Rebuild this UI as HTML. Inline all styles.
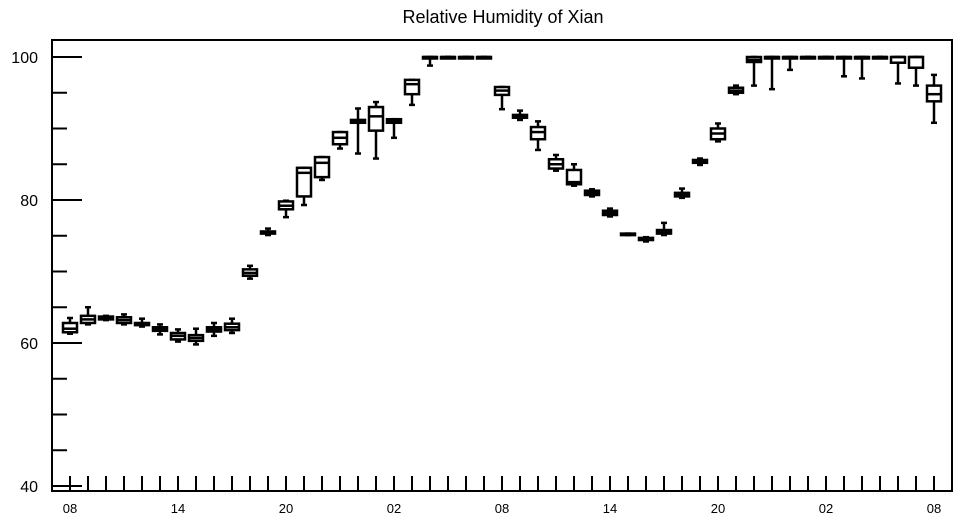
<!DOCTYPE html>
<html><head><meta charset="utf-8"><style>
body{margin:0;background:#fff}
svg{display:block;font-family:"Liberation Sans",Arial,sans-serif}
</style></head><body>
<svg id="chart" width="957" height="520">
<text x="503" y="23" text-anchor="middle" font-size="18">Relative Humidity of Xian</text>
<rect x="52" y="40" width="900" height="451" fill="none" stroke="#000" stroke-width="2"/>
<g id="marks"></g>
</svg>
<script>
const hours = [0,1,2,3,4,5,6,7,8,9,10,11,12,13,14,15,16,17,18,19,20,21,22,23,24,25,26,27,28,29,30,31,32,33,34,35,36,37,38,39,40,41,42,43,44,45,46,47,48];
const q1s  = [61.5,62.8,63.3,62.8,62.5,61.7,60.5,60.3,61.6,61.8,69.4,75.3,78.7,80.5,83.2,87.8,90.8,89.7,90.8,94.8,99.8,100,100,100,94.7,91.5,88.5,84.4,82.2,80.7,77.9,75.1,74.4,75.3,80.5,85.2,88.5,95.0,99.3,99.8,100,100,100,100,100,100,99.2,98.5,93.8];
const meds = [62.0,63.3,63.5,63.2,62.6,62.0,61.0,60.7,61.9,62.2,69.8,75.4,79.2,83.8,85.2,88.7,91.0,91.7,91.0,96.2,100,100,100,100,95.3,91.7,89.5,85.0,82.5,81.0,78.2,75.2,74.5,75.6,80.7,85.4,89.3,95.3,99.6,100,100,100,100,100,100,100,100,100,94.8];
const q3s  = [62.8,63.8,63.7,63.6,62.8,62.2,61.4,61.1,62.2,62.7,70.3,75.6,79.8,84.5,86.0,89.5,91.2,93.0,91.3,96.8,100,100,100,100,95.8,91.9,90.2,85.7,84.2,81.3,78.5,75.3,74.7,75.8,81.0,85.6,90.0,95.7,100,100,100,100,100,100,100,100,100,100,96.0];
const mins = [61.3,62.6,63.2,62.6,62.3,61.2,60.2,59.8,61.0,61.4,69.0,75.1,77.6,79.3,82.8,87.2,86.5,85.8,88.7,93.3,98.8,100,100,100,92.7,91.2,87.0,84.1,82.0,80.5,77.7,75.1,74.2,75.1,80.3,84.9,88.2,94.8,96.0,95.5,98.2,100,100,97.3,97.0,100,96.3,96.0,90.8];
const maxs = [63.5,65.0,63.8,64.0,63.4,62.6,61.9,62.0,62.8,63.4,70.8,76.0,79.9,84.5,86.0,89.5,92.8,93.7,91.3,96.8,100,100,100,100,95.8,92.5,91.0,86.3,85.0,81.5,78.8,75.3,74.8,76.8,81.6,85.8,90.7,96.0,100,100,100,100,100,100,100,100,100,100,97.5];
const yTicks = [40,60,80,100];
const xTickHours = [0,6,12,18,24,30,36,42,48];
const xTickLabels = ["08","14","20","02","08","14","20","02","08"];

const NS="http://www.w3.org/2000/svg";
const g=document.getElementById('marks');
const X=h=>70+h*18;
const Y=v=>486-(v-40)*7.15;
function mk(tag,attrs){const e=document.createElementNS(NS,tag);for(const k in attrs)e.setAttribute(k,attrs[k]);g.appendChild(e);return e;}
// y axis ticks
for(let v=40;v<=100;v+=5){
  const major=v%20===0;
  const t=mk('line',{x1:52,x2:major?82:67,y1:Y(v),y2:Y(v),stroke:'#000','stroke-width':2});
  
  
}
yTicks.forEach(v=>{
  const t=mk('text',{x:38,y:Y(v)+6,'text-anchor':'end','font-size':16});
  t.textContent=v;
  
  
});
// x ticks
hours.forEach(h=>{
  const t=mk('line',{x1:X(h),x2:X(h),y1:491,y2:476,stroke:'#000','stroke-width':2});
  
  
});
xTickHours.forEach((h,i)=>{
  const t=mk('text',{x:X(h),y:513,'text-anchor':'middle','font-size':13});
  t.textContent=xTickLabels[i];
  
  
});
// boxes
hours.forEach((h,i)=>{
  const x=X(h),w=7;
  const s={stroke:'#000','stroke-width':2.5};
  const wl=mk('line',Object.assign({x1:x,x2:x,y1:Y(q1s[i]),y2:Y(mins[i])},s));
  
  
  const wh=mk('line',Object.assign({x1:x,x2:x,y1:Y(q3s[i]),y2:Y(maxs[i])},s));
  
  
  const c1=mk('line',Object.assign({x1:x-3,x2:x+3,y1:Y(mins[i]),y2:Y(mins[i])},s));
  
  
  const c2=mk('line',Object.assign({x1:x-3,x2:x+3,y1:Y(maxs[i]),y2:Y(maxs[i])},s));
  
  
  const hgt=Math.max(Y(q1s[i])-Y(q3s[i]),1.5);
  const b=mk('rect',Object.assign({x:x-w,y:Y(q3s[i]),width:2*w,height:hgt,fill:'#fff'},s));
  
  
  const m=mk('line',Object.assign({x1:x-w,x2:x+w,y1:Y(meds[i]),y2:Y(meds[i])},s));
  
  
});
</script>
</body></html>
